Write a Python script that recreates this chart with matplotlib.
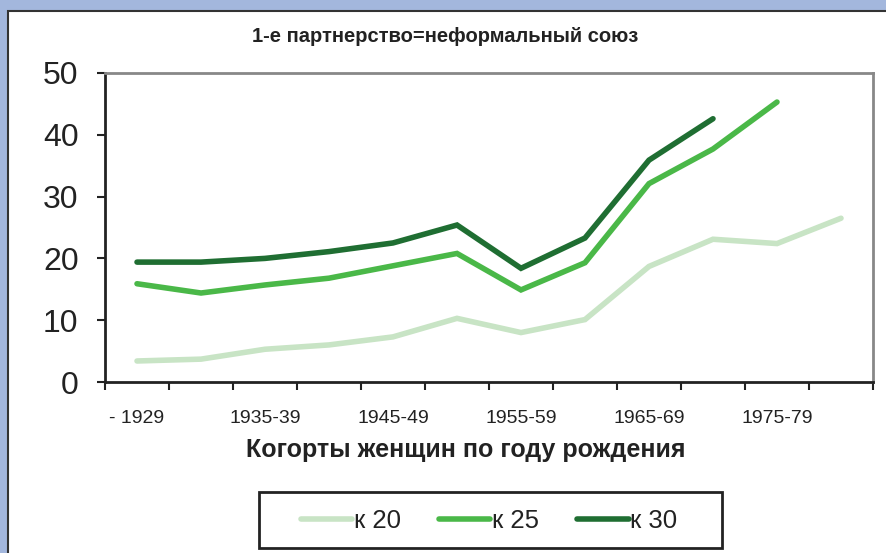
import numpy as np
import matplotlib
matplotlib.use('Agg')
import matplotlib.pyplot as plt
from matplotlib.patches import Rectangle

plt.rcParams['font.family'] = ['Liberation Sans', 'DejaVu Sans']

cohorts = ['- 1929', '1930-34', '1935-39', '1940-44', '1945-49', '1950-54',
           '1955-59', '1960-64', '1965-69', '1970-74', '1975-79', '1980-84']
k20 = [3.4, 3.7, 5.3, 6.0, 7.3, 10.3, 8.0, 10.1, 18.7, 23.1, 22.4, 26.5]
k25 = [15.9, 14.4, 15.7, 16.8, 18.8, 20.8, 14.9, 19.3, 32.1, 37.7, 45.3]
k30 = [19.4, 19.4, 20.0, 21.1, 22.5, 25.4, 18.4, 23.3, 35.9, 42.6]

series = [('к 20', k20, '#c8e4c5'), ('к 25', k25, '#4ab848'), ('к 30', k30, '#1f6e32')]

W, H = 887, 553
fig = plt.figure(figsize=(W / 100, H / 100), dpi=100, facecolor='#a3b7dd')
# white panel with dark edge
fig.patches.append(Rectangle((8 / W, -0.05), 1.0, 1 - 11 / H + 0.05, transform=fig.transFigure,
                             facecolor='white', edgecolor='#333333', linewidth=1.5, zorder=-5))
# legend box
fig.patches.append(Rectangle((259 / W, 1 - 548 / H), (722 - 259) / W, (548 - 492) / H,
                             transform=fig.transFigure, facecolor='white', edgecolor='#222222',
                             linewidth=2, zorder=-4))

ax = fig.add_axes([105 / W, 1 - 382 / H, (873 - 105) / W, (382 - 73) / H])
ax.set_zorder(2)
ax.set_facecolor('white')

for name, vals, col in series:
    x = np.arange(len(vals))
    ax.plot(x, vals, color=col, lw=4, solid_capstyle='round', solid_joinstyle='miter', label=name)

ax.set_xlim(-0.5, len(cohorts) - 0.5)
ax.set_ylim(0, 50)
ax.set_yticks([0, 10, 20, 30, 40, 50])
ax.tick_params(axis='y', labelsize=23, direction='out', length=6, width=1.5, pad=13, colors='#222222')

ax.set_xticks(np.arange(-0.5, len(cohorts)), labels=[])
ax.set_xticks(np.arange(0, len(cohorts), 2), labels=cohorts[::2], minor=True)
ax.tick_params(axis='x', which='major', direction='out', length=6, width=1.5, color='#222222')
ax.tick_params(axis='x', which='minor', length=0, labelsize=14, pad=20, labelcolor='#222222')

for s in ['left', 'bottom']:
    ax.spines[s].set_color('#222222')
    ax.spines[s].set_linewidth(2)
for s in ['top', 'right']:
    ax.spines[s].set_color('#888888')
    ax.spines[s].set_linewidth(2)

ax.set_xlabel('Когорты женщин по году рождения', fontsize=18, fontweight='bold',
              color='#222222', labelpad=8, x=(466 - 105) / (873 - 105))

fig.text(445 / W, 1 - 37 / H, '1-е партнерство=неформальный союз', ha='center', va='center',
         fontsize=14.5, fontweight='bold', color='#222222')

leg = fig.legend(loc='center', bbox_to_anchor=(489 / W, 1 - 521 / H), ncol=3, fontsize=18.5,
                 frameon=False, handlelength=2.0, handletextpad=0.05, columnspacing=1.5)
for t in leg.get_texts():
    t.set_color('#222222')

fig.savefig('out.png', dpi=100, facecolor=fig.get_facecolor())
